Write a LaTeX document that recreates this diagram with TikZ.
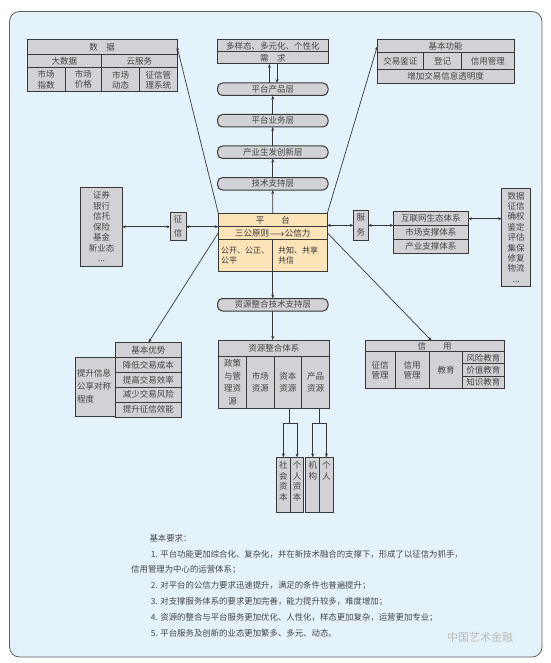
\documentclass[tikz,border=0pt]{standalone}
\usepackage{fontspec}
\setmainfont{Noto Sans CJK SC}
\usepackage{xcolor}
\definecolor{bgblue}{HTML}{E4F3FB}
\definecolor{cellgray}{HTML}{D2D2D6}
\definecolor{edge}{HTML}{383838}
\definecolor{ink}{HTML}{444444}
\definecolor{peach}{HTML}{FCE3B8}
\usetikzlibrary{arrows.meta,positioning}
\tikzset{
  cell/.style     = {rectangle, draw=edge, line width=1pt, fill=cellgray,
                     inner sep=0pt, outer sep=0pt, anchor=north west,
                     align=center, text=ink, font=\fontsize{8.5}{10}\selectfont},
  layerbox/.style = {cell, rounded corners=5pt, minimum width=110.5pt,
                     minimum height=12.5pt},
  pfcell/.style   = {cell, fill=peach, text=black!80},
  vbox/.style     = {cell, minimum width=13.7pt, minimum height=55.4pt},
  vtxt/.style     = {anchor=north, yshift=-4pt, inner sep=0pt, align=center,
                     text=ink, font=\fontsize{8.5}{10.6}\selectfont},
  arr/.style      = {-{Stealth[length=4pt,width=3pt]}, line width=0.7pt, draw=edge},
  dblarr/.style   = {{Stealth[length=3.5pt,width=3pt]}-{Stealth[length=3.5pt,width=3pt]},
                     line width=1pt, draw=edge},
  note/.style     = {anchor=north west, align=left, inner sep=0pt, text=ink,
                     font=\fontsize{8.4}{15.8}\selectfont}
}

\begin{document}
\begin{tikzpicture}[x=1pt, y=-1pt]
  \useasboundingbox (0,0) rectangle (550,663);
  \fill[white] (0,0) rectangle (550,663);
  \draw[draw=edge!80, fill=bgblue, line width=0.8pt, rounded corners=10pt]
    (9.5,11.5) rectangle (542,657);

  % data table
  \node[cell, minimum width=150pt, minimum height=15pt] (dHead) at (27,39.5) {数\quad 据};
  \node[cell, minimum width=74.8pt, minimum height=13.5pt] (dBig) at (27,54.5) {大数据};
  \node[cell, minimum width=75.2pt, minimum height=13.5pt, right=0pt of dBig] (dCloud) {云服务};
  \node[cell, minimum width=38pt, minimum height=23.5pt] (dIdx) at (27,68) {市场\\指数};
  \node[cell, minimum width=36.8pt, minimum height=23.5pt, right=0pt of dIdx] (dPrice) {市场\\价格};
  \node[cell, minimum width=37.8pt, minimum height=23.5pt, right=0pt of dPrice] (dTrend) {市场\\动态};
  \node[cell, minimum width=37.4pt, minimum height=23.5pt, right=0pt of dTrend] (dSys) {征信管\\理系统};

  % demand and layers
  \node[cell, minimum width=110.5pt, minimum height=12.4pt] (nDemand) at (217.5,39.6) {多样态、多元化、个性化};
  \node[cell, minimum width=110.5pt, minimum height=11.8pt, below=0pt of nDemand] (nNeed) {需\quad 求};
  \node[layerbox] (pProduct) at (217.5,83) {平台产品层};
  \node[layerbox, below=19pt of pProduct] (pBusiness) {平台业务层};
  \node[layerbox, below=19pt of pBusiness] (pInnov) {产业生发创新层};
  \node[layerbox, below=19pt of pInnov] (pTech) {技术支持层};

  % basic functions
  \node[cell, minimum width=136.7pt, minimum height=13.4pt] (fHead) at (377.3,39.3) {基本功能};
  \node[cell, minimum width=46pt, minimum height=16.6pt] (fA) at (377.3,52.7) {交易鉴证};
  \node[cell, minimum width=38.4pt, minimum height=16.6pt, right=0pt of fA] (fB) {登记};
  \node[cell, minimum width=52.3pt, minimum height=16.6pt, right=0pt of fB] (fC) {信用管理};
  \node[cell, minimum width=136.7pt, minimum height=14pt] (fD) at (377.3,69.3) {增加交易信息透明度};

  % platform
  \node[pfcell, minimum width=109pt, minimum height=13pt] (pfTitle) at (218.3,213.3) {平\qquad 台};
  \node[pfcell, minimum width=109pt, minimum height=13pt, below=0pt of pfTitle] (pfRule)
    {三公原则{\boldmath$\longrightarrow$}公信力};
  \node[pfcell, minimum width=54.5pt, minimum height=31.7pt, text width=49pt, align=left,
    font=\fontsize{8}{10}\selectfont] (pfLeft) at (218.3,239.3) {公开、公正、\\公平};
  \node[pfcell, minimum width=54.5pt, minimum height=31.7pt, text width=44pt, align=left,
    font=\fontsize{8}{10}\selectfont, right=0pt of pfLeft] (pfRight) {共知、共享\\共信};

  % credit reporting side
  \node[cell, minimum width=16pt, minimum height=28pt] (zx) at (170,212.7) {征\\[4pt]信};
  \node[cell, minimum width=41.6pt, minimum height=78.3pt, font=\fontsize{8.5}{10.5}\selectfont]
    (inst) at (80.7,187.7) {证券\\银行\\信托\\保险\\基金\\新业态\\...};

  % service side
  \node[cell, minimum width=15pt, minimum height=30.7pt] (fw) at (353.3,210) {服\\[5pt]务};
  \node[cell, minimum width=75pt, minimum height=14pt] (txA) at (393.3,211.7) {互联网生态体系};
  \node[cell, minimum width=75pt, minimum height=14pt, below=0pt of txA] (txB) {市场支撑体系};
  \node[cell, minimum width=75pt, minimum height=14pt, below=0pt of txB] (txC) {产业支撑体系};
  \node[cell, minimum width=29pt, minimum height=97.7pt, font=\fontsize{8.5}{10.4}\selectfont]
    (dataR) at (501.7,188.3) {数据\\征信\\确权\\鉴定\\评估\\集保\\修复\\物流\\...};

  % basic advantages
  \node[cell, minimum width=66.8pt, minimum height=14.8pt] (advHead) at (115,342.6) {基本优势};
  \node[cell, minimum width=66.8pt, minimum height=14.9pt, below=0pt of advHead] (adv1) {降低交易成本};
  \node[cell, minimum width=66.8pt, minimum height=14.9pt, below=0pt of adv1] (adv2) {提高交易效率};
  \node[cell, minimum width=66.8pt, minimum height=14.9pt, below=0pt of adv2] (adv3) {减少交易风险};
  \node[cell, minimum width=66.8pt, minimum height=14.9pt, below=0pt of adv3] (adv4) {提升征信效能};
  \node[cell, minimum width=39.6pt, minimum height=58.6pt, text width=36pt, align=left,
    font=\fontsize{8.5}{13}\selectfont] (advL) at (75.4,357.4) {提升信息\\公享对称\\程度};

  % resource integration
  \node[layerbox] (resPill) at (217.5,298.5) {资源整合技术支持层};
  \node[cell, minimum width=111pt, minimum height=16pt] (resHead) at (218.3,340) {资源整合体系};
  \node[cell, minimum width=28.4pt, minimum height=52.3pt, font=\fontsize{8.5}{12.5}\selectfont]
    (resPol) at (218.3,356) {政策\\与管\\理资\\源};
  \node[cell, minimum width=27.3pt, minimum height=52.3pt, font=\fontsize{8.5}{12.5}\selectfont,
    right=0pt of resPol] (resMkt) {市场\\资源};
  \node[cell, minimum width=27.7pt, minimum height=52.3pt, font=\fontsize{8.5}{12.5}\selectfont,
    right=0pt of resMkt] (resCap) {资本\\资源};
  \node[cell, minimum width=27.6pt, minimum height=52.3pt, font=\fontsize{8.5}{12.5}\selectfont,
    right=0pt of resCap] (resProd) {产品\\资源};
  \node[vbox, label={[vtxt]north:社\\会\\资\\本}] (sCap) at (276.5,457.4) {};
  \node[vbox, right=0pt of sCap, label={[vtxt]north:个\\人\\资\\本}] (pCap) {};
  \node[vbox, right=2pt of pCap, label={[vtxt]north:机\\构}] (org) {};
  \node[vbox, right=0pt of org, label={[vtxt]north:个\\人}] (indv) {};

  % credit
  \node[cell, minimum width=139pt, minimum height=11pt] (crHead) at (365,340.7) {信\qquad 用};
  \node[cell, minimum width=30pt, minimum height=36.6pt] (crA) at (365,351.7) {征信\\管理};
  \node[cell, minimum width=34.3pt, minimum height=36.6pt, right=0pt of crA] (crB) {信用\\管理};
  \node[cell, minimum width=33.4pt, minimum height=36.6pt, right=0pt of crB] (crC) {教育};
  \node[cell, minimum width=41.3pt, minimum height=12.2pt] (crD1) at (462.7,351.7) {风险教育};
  \node[cell, minimum width=41.3pt, minimum height=12.2pt, below=0pt of crD1] (crD2) {价值教育};
  \node[cell, minimum width=41.3pt, minimum height=12.2pt, below=0pt of crD2] (crD3) {知识教育};

  % connectors
  \draw[arr] ([xshift=-3.3pt]pProduct.north) -- ([xshift=-3.3pt]nNeed.south);
  \draw[arr] ([xshift=4.3pt]nNeed.south) -- ([xshift=4.3pt]pProduct.north);
  \draw[arr] (pBusiness) -- (pProduct);
  \draw[arr] (pInnov) -- (pBusiness);
  \draw[arr] (pTech) -- (pInnov);
  \draw[arr] (pfTitle.north) -- (pTech.south);
  \draw[arr] (pfLeft.south east) -- (pfLeft.south east |- resPill.north);
  \draw[arr] (resPill.south) -- (resPill.south |- resHead.north);
  \draw[arr] (pfTitle.north west) -- ([yshift=-7pt]dHead.north east);
  \draw[arr] (pfTitle.north east) -- ([yshift=-7pt]fHead.north west);
  \draw[arr] (pfRule.west) -- (advHead.north);
  \draw[arr] (pfRule.east) -- ([xshift=-3pt]crHead.north);
  \draw[dblarr] (inst) -- (inst -| zx.west);
  \draw[dblarr] (zx) -- (zx -| pfTitle.west);
  \draw[dblarr] (fw) -- (fw -| pfTitle.east);
  \draw[dblarr] (fw) -- (fw -| txA.west);
  \draw[dblarr] (txA) -- (txA -| dataR.west);
  \coordinate (jCap) at ([xshift=1.5pt, yshift=-15pt]resCap.south);
  \coordinate (jProd) at ([xshift=3.8pt, yshift=-15pt]resProd.south);
  \draw[line width=0.9pt, draw=edge] ([xshift=1.5pt]resCap.south) -- (jCap);
  \draw[line width=0.9pt, draw=edge] ([xshift=3.8pt]resProd.south) -- (jProd);
  \draw[arr, line width=0.9pt] (jCap) -| (sCap.north);
  \draw[arr, line width=0.9pt] (jCap) -| (pCap.north);
  \draw[arr, line width=0.9pt] (jProd) -| (org.north);
  \draw[arr, line width=0.9pt] (jProd) -| (indv.north);

  % requirements
  \node[note] (req) at (131,534) {%
    \hspace*{18.3pt}基本要求：\\
    \hspace*{19.7pt}1. 平台功能更加综合化、复杂化，并在新技术融合的支撑下，形成了以征信为抓手，\\
    信用管理为中心的运营体系；\\
    \hspace*{19.7pt}2. 对平台的公信力要求迅速提升，满足的条件也普遍提升；\\
    \hspace*{19.7pt}3. 对支撑服务体系的要求更加完善，能力提升较多，难度增加；\\
    \hspace*{19.7pt}4. 资源的整合与平台服务更加优化、人性化，样态更加复杂，运营更加专业；\\
    \hspace*{19.7pt}5. 平台服务及创新的业态更加繁多、多元、动态。};
  \node[text=gray!55, font=\fontsize{11}{13}\selectfont, inner sep=0pt] (wm) at (480,637) {中国艺术金融};
\end{tikzpicture}
\end{document}
